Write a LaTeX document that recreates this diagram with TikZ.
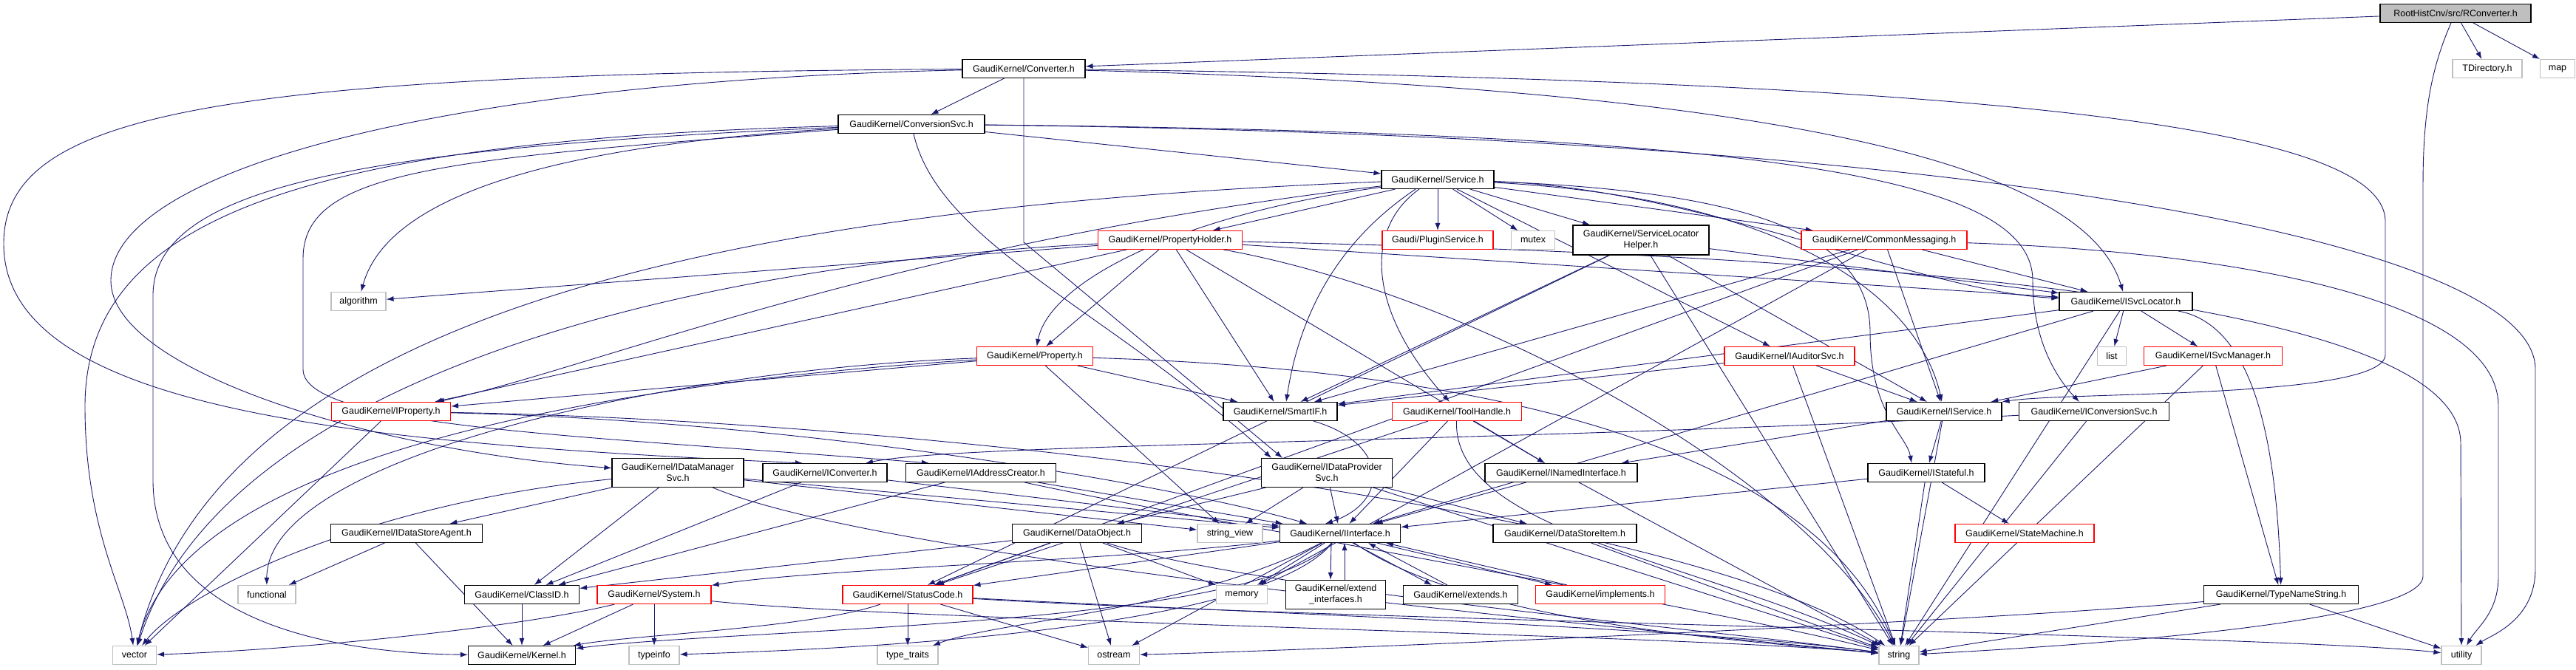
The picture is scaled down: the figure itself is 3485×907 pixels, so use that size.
\documentclass[tikz,border=0pt]{standalone}
\usepackage{fontspec}
\setmainfont{Liberation Sans}
\usetikzlibrary{arrows.meta}
\usetikzlibrary{backgrounds}
\definecolor{EdgeBlue}{HTML}{191970}
\definecolor{BoxGray}{HTML}{BFBFBF}
\newcommand{\depfont}{\fontsize{12.5}{15}\selectfont}
\tikzset{
  hdr/.style={draw=black, fill=white, line width=1.1pt, minimum height=25pt,
    inner sep=2pt, font=\depfont, align=center},
  redhdr/.style={hdr, draw=red},
  syshdr/.style={hdr, draw=BoxGray},
  roothdr/.style={hdr, fill=BoxGray},
  dep/.style={EdgeBlue, line width=0.9pt, -{Latex[length=10pt,width=7pt]}}
}

\begin{document}
\begin{tikzpicture}[x=1pt, y=-1pt]
  \useasboundingbox (0,0) rectangle (3485,907);

  % rows of headers, top to bottom
  \node[roothdr, minimum width=204pt] (root) at (3322,18) {RootHistCnv/src/RConverter.h};
  \node[syshdr, minimum width=94pt] (tdir) at (3365,93) {TDirectory.h};
  \node[syshdr, minimum width=47pt] (map) at (3460,93) {map};
  \node[hdr, minimum width=166pt] (conv) at (1385,93) {GaudiKernel/Converter.h};
  \node[hdr, minimum width=198pt] (cnvsvc) at (1233,168) {GaudiKernel/ConversionSvc.h};
  \node[hdr, minimum width=152pt] (svc) at (1945,243) {GaudiKernel/Service.h};
  \node[redhdr, minimum width=150pt] (plugin) at (1945,325) {Gaudi/PluginService.h};
  \node[syshdr, minimum width=59pt] (mutex) at (2074,325) {mutex};
  \node[hdr, minimum width=184pt, minimum height=40pt] (slh) at (2220,325) {GaudiKernel/ServiceLocator\\Helper.h};
  \node[redhdr, minimum width=224pt] (cmsg) at (2549,325) {GaudiKernel/CommonMessaging.h};
  \node[redhdr, minimum width=195pt] (pholder) at (1583,325) {GaudiKernel/PropertyHolder.h};
  \node[syshdr, minimum width=74pt] (algo) at (485,408) {algorithm};
  \node[hdr, minimum width=180pt] (isvcloc) at (2876,408) {GaudiKernel/ISvcLocator.h};
  \node[syshdr, minimum width=39pt] (list) at (2857,482) {list};
  \node[redhdr, minimum width=187pt] (isvcmgr) at (2994,482) {GaudiKernel/ISvcManager.h};
  \node[redhdr, minimum width=176pt] (iaud) at (2421,482) {GaudiKernel/IAuditorSvc.h};
  \node[redhdr, minimum width=157pt] (prop) at (1400,482) {GaudiKernel/Property.h};
  \node[hdr, minimum width=156pt] (iservice) at (2630,557) {GaudiKernel/IService.h};
  \node[hdr, minimum width=203pt] (icnvsvc) at (2833,557) {GaudiKernel/IConversionSvc.h};
  \node[hdr, minimum width=154pt] (smartif) at (1732,557) {GaudiKernel/SmartIF.h};
  \node[redhdr, minimum width=175pt] (toolh) at (1971,557) {GaudiKernel/ToolHandle.h};
  \node[redhdr, minimum width=161pt] (iprop) at (529,557) {GaudiKernel/IProperty.h};
  \node[hdr, minimum width=158pt] (istate) at (2606,640) {GaudiKernel/IStateful.h};
  \node[hdr, minimum width=206pt] (inamed) at (2112,640) {GaudiKernel/INamedInterface.h};
  \node[hdr, minimum width=177pt, minimum height=39pt] (idps) at (1795,640) {GaudiKernel/IDataProvider\\Svc.h};
  \node[hdr, minimum width=203pt] (iaddr) at (1327,640) {GaudiKernel/IAddressCreator.h};
  \node[hdr, minimum width=168pt] (iconv) at (1116,640) {GaudiKernel/IConverter.h};
  \node[hdr, minimum width=178pt, minimum height=39pt] (idms) at (917,640) {GaudiKernel/IDataManager\\Svc.h};
  \node[redhdr, minimum width=188pt] (statem) at (2739,722) {GaudiKernel/StateMachine.h};
  \node[hdr, minimum width=163pt] (iinterf) at (1813,722) {GaudiKernel/IInterface.h};
  \node[hdr, minimum width=194pt] (dsitem) at (2117,722) {GaudiKernel/DataStoreItem.h};
  \node[hdr, minimum width=175pt] (dobj) at (1457,722) {GaudiKernel/DataObject.h};
  \node[syshdr, minimum width=88pt] (strview) at (1664,722) {string\_view};
  \node[hdr, minimum width=205pt] (idsa) at (550,722) {GaudiKernel/IDataStoreAgent.h};
  \node[hdr, minimum width=135pt, minimum height=39pt] (extif) at (1807,805) {GaudiKernel/extend\\\_interfaces.h};
  \node[hdr, minimum width=155pt] (extends) at (1976,805) {GaudiKernel/extends.h};
  \node[redhdr, minimum width=175pt] (impl) at (2165,805) {GaudiKernel/implements.h};
  \node[syshdr, minimum width=69pt] (memory) at (1680,805) {memory};
  \node[hdr, minimum width=209pt] (typens) at (3086,805) {GaudiKernel/TypeNameString.h};
  \node[syshdr, minimum width=78pt] (functional) at (361,805) {functional};
  \node[hdr, minimum width=155pt] (classid) at (706,805) {GaudiKernel/ClassID.h};
  \node[redhdr, minimum width=154pt] (system) at (885,805) {GaudiKernel/System.h};
  \node[redhdr, minimum width=176pt] (statusc) at (1228,805) {GaudiKernel/StatusCode.h};
  \node[syshdr, minimum width=59pt] (vector) at (182,887) {vector};
  \node[hdr, minimum width=145pt] (kernel) at (706,887) {GaudiKernel/Kernel.h};
  \node[syshdr, minimum width=68pt] (typeinfo) at (885,887) {typeinfo};
  \node[syshdr, minimum width=82pt] (typetraits) at (1228,887) {type\_traits};
  \node[syshdr, minimum width=69pt] (ostream) at (1507,887) {ostream};
  \node[syshdr, minimum width=54pt] (string) at (2569,887) {string};
  \node[syshdr, minimum width=54pt] (utility) at (3330,887) {utility};

  \begin{scope}[on background layer]
    % RConverter.h
    \draw[dep] (root) -- (conv);
    \draw[dep] (root) -- (tdir);
    \draw[dep] (root) -- (map);
    \draw[dep] ([xshift=-6pt]root.south) .. controls (3290,90) and (3278,150) .. (3278,250)
      -- (3278,780) .. controls (3278,850) and (2700,880) .. (string);
    % Converter.h
    \draw[dep] (conv) -- (cnvsvc);
    \draw[dep] (conv) .. controls (2700,110) and (3227,170) .. (3227,300)
      -- (3227,480) .. controls (3227,540) and (2800,530) .. (iservice.north east);
    \draw[dep] (conv) .. controls (2400,120) and (2820,220) .. (isvcloc);
    \draw[dep] (conv.south) -- (1385,328) -- ([xshift=-60pt]idps.north);
    \draw[dep] (conv) .. controls (300,100) and (5,150) .. (5,330)
      .. controls (5,560) and (500,600) .. ([xshift=-30pt]iconv.north);
    \draw[dep] (conv) .. controls (600,110) and (150,230) .. (150,380)
      .. controls (150,500) and (500,610) .. (idms);
    % ConversionSvc.h
    \draw[dep] (cnvsvc) -- (svc);
    \draw[dep] (cnvsvc) .. controls (2400,180) and (2750,240) .. (2750,380)
      .. controls (2750,470) and (2790,520) .. ([xshift=-20pt]icnvsvc.north);
    \draw[dep] (cnvsvc) .. controls (2700,185) and (3430,330) .. (3430,500)
      -- (3430,770) .. controls (3430,840) and (3370,860) .. (utility);
    \draw[dep] (cnvsvc) .. controls (400,190) and (115,300) .. (115,550)
      .. controls (115,720) and (170,800) .. (vector);
    \draw[dep] (cnvsvc) .. controls (500,200) and (207,250) .. (207,400)
      -- (207,650) .. controls (207,860) and (500,885) .. (kernel);
    \draw[dep] (cnvsvc) .. controls (700,200) and (520,280) .. (algo);
    \draw[dep] (cnvsvc) .. controls (1270,330) and (1500,420) .. ([xshift=-75pt]idps.north);
    \draw[dep] (cnvsvc) .. controls (600,215) and (410,230) .. (410,350)
      -- (410,500) .. controls (410,580) and (800,590) .. ([xshift=-70pt]iaddr.north);
    % Service.h
    \draw[dep] (svc) -- (plugin);
    \draw[dep] (svc) -- (mutex);
    \draw[dep] (svc) -- (slh);
    \draw[dep] (svc) -- (cmsg);
    \draw[dep] (svc) -- (pholder);
    \draw[dep] (svc) .. controls (1600,290) and (1420,380) .. (prop);
    \draw[dep] ([xshift=-30pt]svc.south) .. controls (1850,300) and (1765,380) .. ([xshift=8pt]smartif.north);
    \draw[dep] ([xshift=-25pt]svc.south) .. controls (1845,310) and (1850,420) .. ([xshift=-10pt]toolh.north);
    \draw[dep] (svc) -- (iaud);
    \draw[dep] (svc) .. controls (2450,270) and (2600,420) .. (iservice);
    \draw[dep] (svc) .. controls (2300,255) and (2600,395) .. (isvcloc);
    \draw[dep] (svc) .. controls (2400,260) and (2530,330) .. (2530,450)
      .. controls (2530,560) and (2580,590) .. ([xshift=-20pt]istate.north);
    \draw[dep] (svc) .. controls (1200,330) and (800,500) .. (iprop);
    \draw[dep] (svc) .. controls (1000,280) and (300,420) .. (vector);
    % PropertyHolder.h
    \draw[dep] (pholder) -- (algo);
    \draw[dep] (pholder) -- (prop);
    \draw[dep] (pholder) -- (iprop);
    \draw[dep] (pholder) -- (smartif);
    \draw[dep] (pholder) -- (isvcloc);
    \draw[dep] (pholder) -- (inamed);
    \draw[dep] (pholder) .. controls (2000,400) and (2450,650) .. (string);
    \draw[dep] (pholder) .. controls (900,360) and (300,520) .. (vector);
    \draw[dep] (pholder) .. controls (2500,345) and (3329,400) .. (3329,600) -- (utility);
    % Property.h
    \draw[dep] (prop) -- (iprop);
    \draw[dep] (prop) -- (smartif);
    \draw[dep] (prop) -- (strview);
    \draw[dep] (prop) .. controls (2000,500) and (2450,600) .. (string);
    \draw[dep] (prop) .. controls (900,500) and (360,620) .. (functional);
    \draw[dep] (prop) .. controls (800,520) and (250,620) .. (vector);
    % IProperty.h
    \draw[dep] (iprop) -- (vector);
    \draw[dep] (iprop) .. controls (1100,570) and (1600,660) .. (iinterf);
    \draw[dep] (iprop) .. controls (1300,570) and (2300,700) .. (string);
    % ServiceLocatorHelper.h
    \draw[dep] (slh) -- (isvcloc);
    \draw[dep] (slh) -- (iservice);
    \draw[dep] (slh) -- (smartif);
    \draw[dep] (slh) -- (statusc);
    \draw[dep] (slh) -- (string);
    % CommonMessaging.h
    \draw[dep] (cmsg) -- (isvcloc);
    \draw[dep] (cmsg) -- (iservice);
    \draw[dep] (cmsg) -- (smartif);
    \draw[dep] (cmsg) -- (memory);
    \draw[dep] (cmsg) -- (statusc);
    \draw[dep] (cmsg) .. controls (3000,340) and (3380,400) .. (3380,550)
      -- (3380,780) .. controls (3380,830) and (3350,850) .. (utility);
    % ISvcLocator.h
    \draw[dep] (isvcloc) -- (list);
    \draw[dep] (isvcloc) -- (isvcmgr);
    \draw[dep] (isvcloc) .. controls (3050,440) and (3080,600) .. (typens);
    \draw[dep] (isvcloc) -- (string);
    \draw[dep] (isvcloc) -- (smartif);
    \draw[dep] (isvcloc) -- (iinterf);
    % ISvcManager.h, IAuditorSvc.h, IService.h, IConversionSvc.h
    \draw[dep] (isvcmgr) -- (iservice);
    \draw[dep] (isvcmgr) -- (typens);
    \draw[dep] (isvcmgr) -- (string);
    \draw[dep] (iaud) -- (iservice);
    \draw[dep] (iaud) -- (string);
    \draw[dep] (iaud) -- (smartif);
    \draw[dep] (iservice) -- (istate);
    \draw[dep] (iservice) -- (inamed);
    \draw[dep] (iservice) -- (string);
    \draw[dep] (icnvsvc) .. controls (2000,600) and (1300,600) .. ([xshift=55pt]iconv.north);
    \draw[dep] (icnvsvc) -- (string);
    % IStateful.h, INamedInterface.h, ToolHandle.h, SmartIF.h
    \draw[dep] (istate) -- (statem);
    \draw[dep] (istate) -- (string);
    \draw[dep] (istate) -- (iinterf);
    \draw[dep] (inamed) -- (iinterf);
    \draw[dep] (inamed) -- (string);
    \draw[dep] (toolh) -- (inamed);
    \draw[dep] (toolh) .. controls (1965,720) and (2300,760) .. (string);
    \draw[dep] (toolh) -- (statusc);
    \draw[dep] (toolh) -- (iinterf);
    \draw[dep] (smartif) .. controls (1880,600) and (1880,680) .. ([xshift=-20pt]iinterf.north);
    % IDataProviderSvc.h, IDataManagerSvc.h
    \draw[dep] (idps) -- (iinterf);
    \draw[dep] (idps) -- (strview);
    \draw[dep] (idps) -- (dobj);
    \draw[dep] (idps) -- (dsitem);
    \draw[dep] (idps) -- (string);
    \draw[dep] (idms) -- (idsa);
    \draw[dep] (idms) -- (classid);
    \draw[dep] (idms) -- (strview);
    \draw[dep] (idms) -- (iinterf);
    \draw[dep] (idms) .. controls (1200,760) and (2200,850) .. (string);
    \draw[dep] (idms) .. controls (500,680) and (250,800) .. (vector);
    % IConverter.h, IAddressCreator.h, IDataStoreAgent.h
    \draw[dep] (iconv) -- (classid);
    \draw[dep] (iconv) -- (iinterf);
    \draw[dep] (iaddr) -- (classid);
    \draw[dep] (iaddr) -- (iinterf);
    \draw[dep] (iaddr) .. controls (1600,700) and (2300,820) .. (string);
    \draw[dep] (idsa) -- (functional);
    \draw[dep] (idsa) -- (kernel);
    % DataObject.h, DataStoreItem.h
    \draw[dep] (dobj) -- (classid);
    \draw[dep] (dobj) -- (statusc);
    \draw[dep] (dobj) -- (memory);
    \draw[dep] (dobj) -- (ostream);
    \draw[dep] (dobj) .. controls (1700,800) and (2300,850) .. (string);
    \draw[dep] (dsitem) -- (string);
    % IInterface.h and its mixins
    \draw[dep] ([xshift=-12pt]iinterf.south) -- ([xshift=-7pt]extif.north);
    \draw[dep] ([xshift=12pt]extif.north) -- ([xshift=6pt]iinterf.south);
    \draw[dep] ([xshift=17pt]iinterf.south) -- ([xshift=-39pt]extends.north);
    \draw[dep] ([xshift=-18pt]extends.north) -- ([xshift=38pt]iinterf.south);
    \draw[dep] ([xshift=50pt]iinterf.south) -- ([xshift=-65pt]impl.north);
    \draw[dep] ([xshift=-45pt]impl.north) -- ([xshift=62pt]iinterf.south);
    \draw[dep] (iinterf) .. controls (1700,850) and (1000,850) .. (kernel);
    \draw[dep] (iinterf) -- (statusc);
    \draw[dep] (iinterf) .. controls (1500,760) and (1100,770) .. (system);
    \draw[dep] (iinterf) .. controls (1700,860) and (1100,880) .. (typeinfo);
    \draw[dep] (iinterf) .. controls (1600,830) and (1350,840) .. (typetraits);
    \draw[dep] (iinterf) -- (ostream);
    \draw[dep] (iinterf) .. controls (2000,850) and (2400,870) .. (string);
    \draw[dep] (iinterf) -- (memory);
    % bottom rows
    \draw[dep] (classid) -- (kernel);
    \draw[dep] (system) -- (kernel);
    \draw[dep] (system) -- (typeinfo);
    \draw[dep] (system) .. controls (700,850) and (400,880) .. (vector);
    \draw[dep] (system) .. controls (1200,840) and (2300,860) .. (string);
    \draw[dep] (statusc) -- (typetraits);
    \draw[dep] (statusc) -- (ostream);
    \draw[dep] (statusc) .. controls (1100,850) and (850,860) .. (kernel);
    \draw[dep] (statusc) .. controls (1700,830) and (2300,850) .. (string);
    \draw[dep] (statusc) .. controls (1800,840) and (3100,860) .. (utility);
    \draw[dep] (typens) -- (string);
    \draw[dep] (typens) -- (utility);
    \draw[dep] (typens) .. controls (2700,840) and (1800,880) .. (ostream);
  \end{scope}
\end{tikzpicture}
\end{document}
